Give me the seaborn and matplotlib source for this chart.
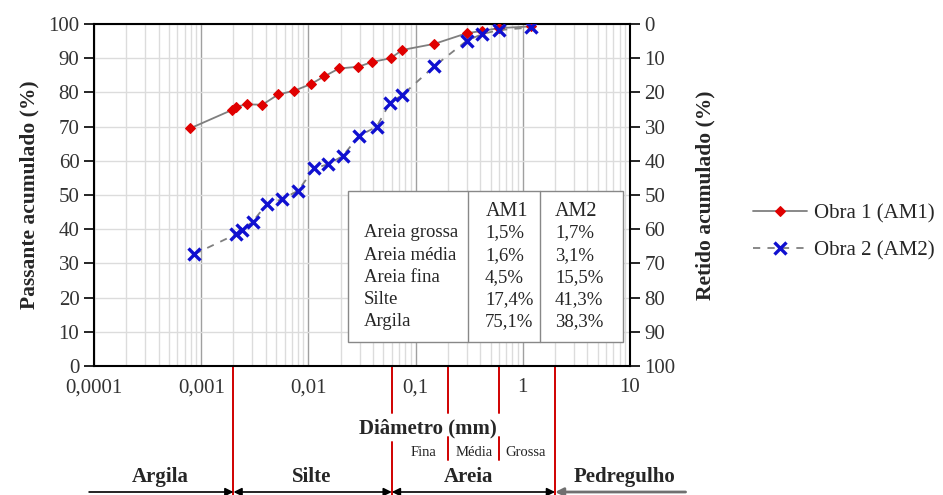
import numpy as np
import pandas as pd
import matplotlib
matplotlib.use("Agg")
import matplotlib.pyplot as plt
import matplotlib.transforms as mtransforms
from matplotlib.ticker import FixedLocator, FixedFormatter, NullFormatter, LogLocator
import seaborn as sns

# Obra 1 (AM1) - diametro (mm) e passante acumulado (%)
d_obra1 = [0.00079, 0.00195, 0.00211, 0.00266, 0.00372, 0.00524, 0.00739, 0.0105,
           0.0141, 0.0193, 0.0292, 0.0394, 0.0586, 0.075, 0.15, 0.30, 0.42, 0.60, 1.19]
p_obra1 = [69.5, 74.9, 75.8, 76.5, 76.4, 79.4, 80.5, 82.4,
           84.7, 87.0, 87.5, 88.9, 90.0, 92.4, 94.2, 97.3, 98.0, 98.8, 99.3]

# Obra 2 (AM2)
d_obra2 = [0.00086, 0.00210, 0.00239, 0.00302, 0.00408, 0.00571, 0.00805, 0.0113,
           0.0153, 0.0209, 0.0297, 0.0434, 0.0577, 0.075, 0.15, 0.30, 0.42, 0.60, 1.19]
p_obra2 = [32.7, 38.5, 39.8, 42.2, 47.3, 48.8, 51.3, 57.8,
           59.0, 61.4, 67.3, 70.0, 77.0, 79.2, 87.7, 95.1, 97.1, 98.2, 99.0]

# tabela de frações
fracoes = ["Areia grossa", "Areia média", "Areia fina", "Silte", "Argila"]
am1 = ["1,5%", "1,6%", "4,5%", "17,4%", "75,1%"]
am2 = ["1,7%", "3,1%", "15,5%", "41,3%", "38,3%"]

x_ticks = [0.0001, 0.001, 0.01, 0.1, 1, 10]
x_labels = ["0,0001", "0,001", "0,01", "0,1", "1", "10"]

# limites granulométricos (mm)
limites = [0.002, 0.06, 0.2, 0.6, 2.0]

sns.set_style("white")
plt.rcParams["font.family"] = ["Liberation Serif", "DejaVu Serif"]

df1 = pd.DataFrame({"d": d_obra1, "p": p_obra1})
df2 = pd.DataFrame({"d": d_obra2, "p": p_obra2})

fig = plt.figure(figsize=(9.43, 4.95), dpi=100)
ax = fig.add_axes([94 / 943, 1 - 366 / 495, (630 - 94) / 943, (366 - 24) / 495])

sns.lineplot(data=df1, x="d", y="p", ax=ax, color="#7f7f7f", lw=1.3,
             marker="D", markersize=5.5, markerfacecolor="#e00000",
             markeredgecolor="#e00000", label="Obra 1 (AM1)", zorder=3)
sns.lineplot(data=df2, x="d", y="p", ax=ax, color="#7f7f7f", lw=1.3,
             linestyle=(0, (4, 4)), marker="x", markersize=8, markeredgewidth=2.4,
             markeredgecolor="#1010d0", label="Obra 2 (AM2)", zorder=4)

ax.set_xscale("log")
ax.set_xlim(1e-4, 10)
ax.set_ylim(0, 100)
ax.xaxis.set_major_locator(FixedLocator(x_ticks))
ax.xaxis.set_major_formatter(FixedFormatter(x_labels))
ax.xaxis.set_minor_locator(LogLocator(base=10, subs=np.arange(2, 10)))
ax.xaxis.set_minor_formatter(NullFormatter())
ax.set_yticks(range(0, 101, 10))
ax.grid(which="minor", axis="x", color="#dcdcdc", lw=1.0)
ax.grid(which="major", axis="x", color="#a0a0a0", lw=1.0)
ax.grid(which="major", axis="y", color="#dcdcdc", lw=1.0)
ax.set_axisbelow(True)
ax.tick_params(axis="x", which="both", length=0, labelsize=15, pad=9, colors="#333333")
ax.tick_params(axis="y", length=7, width=1.2, labelsize=15, colors="#333333")
ax.tick_params(axis="y", color="black")
for s in ["left", "bottom", "top"]:
    ax.spines[s].set_color("black")
    ax.spines[s].set_linewidth(1.5)
ax.spines["right"].set_visible(False)
ax.set_xlabel("")
ax.set_ylabel("Passante acumulado (%)", fontsize=15.5, fontweight="bold", labelpad=6)
ax.get_legend().remove()

ax2 = ax.twinx()
ax2.set_ylim(100, 0)
ax2.set_yticks(range(0, 101, 10))
ax2.tick_params(axis="y", length=7, width=1.2, labelsize=15, colors="#333333")
ax2.tick_params(axis="y", color="black")
ax2.spines["right"].set_color("black")
ax2.spines["right"].set_linewidth(1.5)
for s in ["left", "bottom", "top"]:
    ax2.spines[s].set_visible(False)
ax2.set_ylabel("Retido acumulado (%)", fontsize=15.5, fontweight="bold", labelpad=14)

# tabela
def fy(pix):
    return 1 - pix / 495

def fx(pix):
    return pix / 943

box = plt.Rectangle((fx(348), fy(342)), fx(623) - fx(348), fy(191) - fy(342),
                    transform=fig.transFigure, facecolor="white", edgecolor="#888888",
                    lw=1.0, zorder=5)
fig.patches.append(box)
for xc in [468, 540]:
    fig.add_artist(plt.Line2D([fx(xc), fx(xc)], [fy(342), fy(191)], color="#888888", lw=1.0,
                              transform=fig.transFigure, zorder=6))
fig.text(fx(486), fy(211), "AM1", fontsize=14.5, va="center", zorder=7)
fig.text(fx(555), fy(211), "AM2", fontsize=14.5, va="center", zorder=7)
for i, nome in enumerate(fracoes):
    yy = fy(233 + i * 22.2)
    fig.text(fx(364), yy, nome, fontsize=13.5, va="center", zorder=7)
    fig.text(fx(485), yy, am1[i], fontsize=13.5, va="center", zorder=7)
    fig.text(fx(555), yy, am2[i], fontsize=13.5, va="center", zorder=7)

# escala granulométrica abaixo do eixo
tr = mtransforms.blended_transform_factory(ax.transData, fig.transFigure)
segs = {0.002: [(366, 495)], 0.06: [(366, 413), (442, 495)],
        0.2: [(366, 413), (437, 460)], 0.6: [(366, 413), (437, 460)], 2.0: [(366, 495)]}
for lim in limites:
    for a, b in segs[lim]:
        ax.plot([lim, lim], [fy(a), fy(b)], color="#d00000", lw=1.4,
                transform=tr, clip_on=False)

fig.text(fx(428), fy(428), "Diâmetro (mm)", fontsize=15, fontweight="bold",
         ha="center", va="center")
for txt, xc in [("Fina", 423), ("Média", 474), ("Grossa", 526)]:
    fig.text(fx(xc), fy(453), txt, fontsize=10.5, ha="center", va="center", color="#222222")
for txt, xc in [("Argila", 160), ("Silte", 312), ("Areia", 468), ("Pedregulho", 625)]:
    fig.text(fx(xc), fy(477), txt, fontsize=15, fontweight="bold", ha="center", va="center")

yarr = fy(492)
arrow_k = dict(arrowstyle="-|>", color="black", lw=1.2, mutation_scale=12,
               shrinkA=0, shrinkB=0)
ax.annotate("", xy=(0.002, yarr), xytext=(9e-5, yarr), xycoords=tr, textcoords=tr,
            arrowprops=arrow_k, annotation_clip=False)
ax.annotate("", xy=(0.06, yarr), xytext=(0.002, yarr), xycoords=tr, textcoords=tr,
            arrowprops=dict(arrow_k, arrowstyle="<|-|>"), annotation_clip=False)
ax.annotate("", xy=(2.0, yarr), xytext=(0.06, yarr), xycoords=tr, textcoords=tr,
            arrowprops=dict(arrow_k, arrowstyle="<|-|>"), annotation_clip=False)
ax.annotate("", xy=(2.0, yarr), xytext=(33, yarr), xycoords=tr, textcoords=tr,
            arrowprops=dict(arrow_k, color="#707070", lw=2.0), annotation_clip=False)

# legenda
h, l = ax.get_legend_handles_labels()
fig.legend(h, l, loc="center left", bbox_to_anchor=(fx(747), fy(232)), frameon=False,
           fontsize=15, handlelength=2.6, handletextpad=0.3, labelspacing=0.85,
           borderaxespad=0, borderpad=0.3)

fig.savefig("out.png", dpi=100)
